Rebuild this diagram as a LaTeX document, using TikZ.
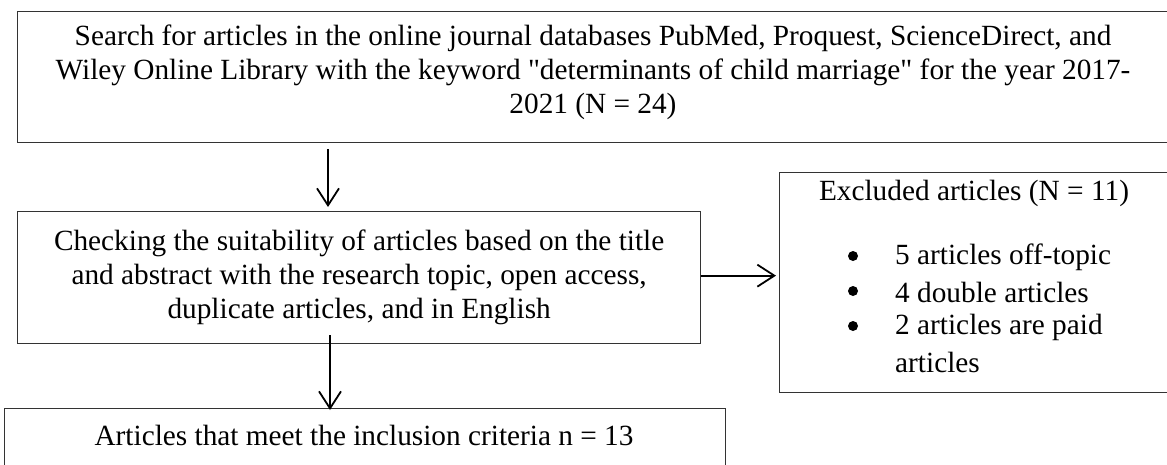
\documentclass[tikz,border=0pt]{standalone}
\usepackage{fontspec}
\setmainfont{Liberation Serif}[Ligatures=TeXOff]
\usetikzlibrary{arrows.meta}
\tikzset{
  boxed/.style={draw=black!80, line width=1.3pt, rectangle, inner sep=0pt},
  txt/.style={align=center, inner sep=0pt, font=\fontsize{29.3}{34}\selectfont},
  itemtxt/.style={anchor=west, inner sep=0pt, font=\fontsize{29.3}{34}\selectfont},
  bullet/.style={circle, fill=black, inner sep=0pt, minimum size=10pt},
  arr/.style={line width=1.8pt, -{Straight Barb[length=17pt,width=22pt,line width=1.8pt]}}
}
\begin{document}
\begin{tikzpicture}[x=1pt,y=1pt]
\useasboundingbox (0,0) rectangle (1167,-464);
\clip (0,0) rectangle (1167,-464);
% boxes
\node[boxed, anchor=north west, minimum width=1165pt, minimum height=131pt] (top) at (17,-11) {};
\node[txt] (toptxt) at (593,-72) {Search for articles in the online journal databases PubMed, Proquest, ScienceDirect, and\\Wiley Online Library with the keyword "determinants of child marriage" for the year 2017-\\2021 (N = 24)};
\node[boxed, anchor=north west, minimum width=683pt, minimum height=132pt] (mid) at (17,-211) {};
\node[txt] (midtxt) at (mid.center) {Checking the suitability of articles based on the title\\and abstract with the research topic, open access,\\duplicate articles, and in English};
\node[boxed, anchor=north west, minimum width=400pt, minimum height=220pt] (exc) at (779,-172) {};
\node[txt] (exctitle) at (974,-193) {Excluded articles (N = 11)};
\node[bullet] (b1) at (853,-256) {};
\node[itemtxt] (i1) at (895,-257) {5 articles off-topic};
\node[bullet] (b2) at (853,-291) {};
\node[itemtxt] (i2) at (895,-292) {4 double articles};
\node[bullet] (b3) at (853,-326) {};
\node[itemtxt] (i3) at (895,-327) {2 articles are paid};
\node[itemtxt] (i4) at (895,-362) {articles};
\node[boxed, anchor=north west, minimum width=721pt, minimum height=80pt] (bot) at (4,-408) {};
\node[txt] (bottxt) at (364,-435) {Articles that meet the inclusion criteria n = 13};
% connectors
\coordinate (a1s) at (328,-149);
\draw[arr] (a1s) -- ([yshift=4pt]a1s |- mid.north);
\coordinate (a2s) at (330,-335);
\draw[arr] (a2s) -- ([yshift=-2pt]a2s |- bot.north);
\coordinate (a3s) at ([yshift=2pt]mid.east);
\draw[arr] (a3s) -- ([xshift=-3pt]a3s -| exc.west);
\end{tikzpicture}
\end{document}
